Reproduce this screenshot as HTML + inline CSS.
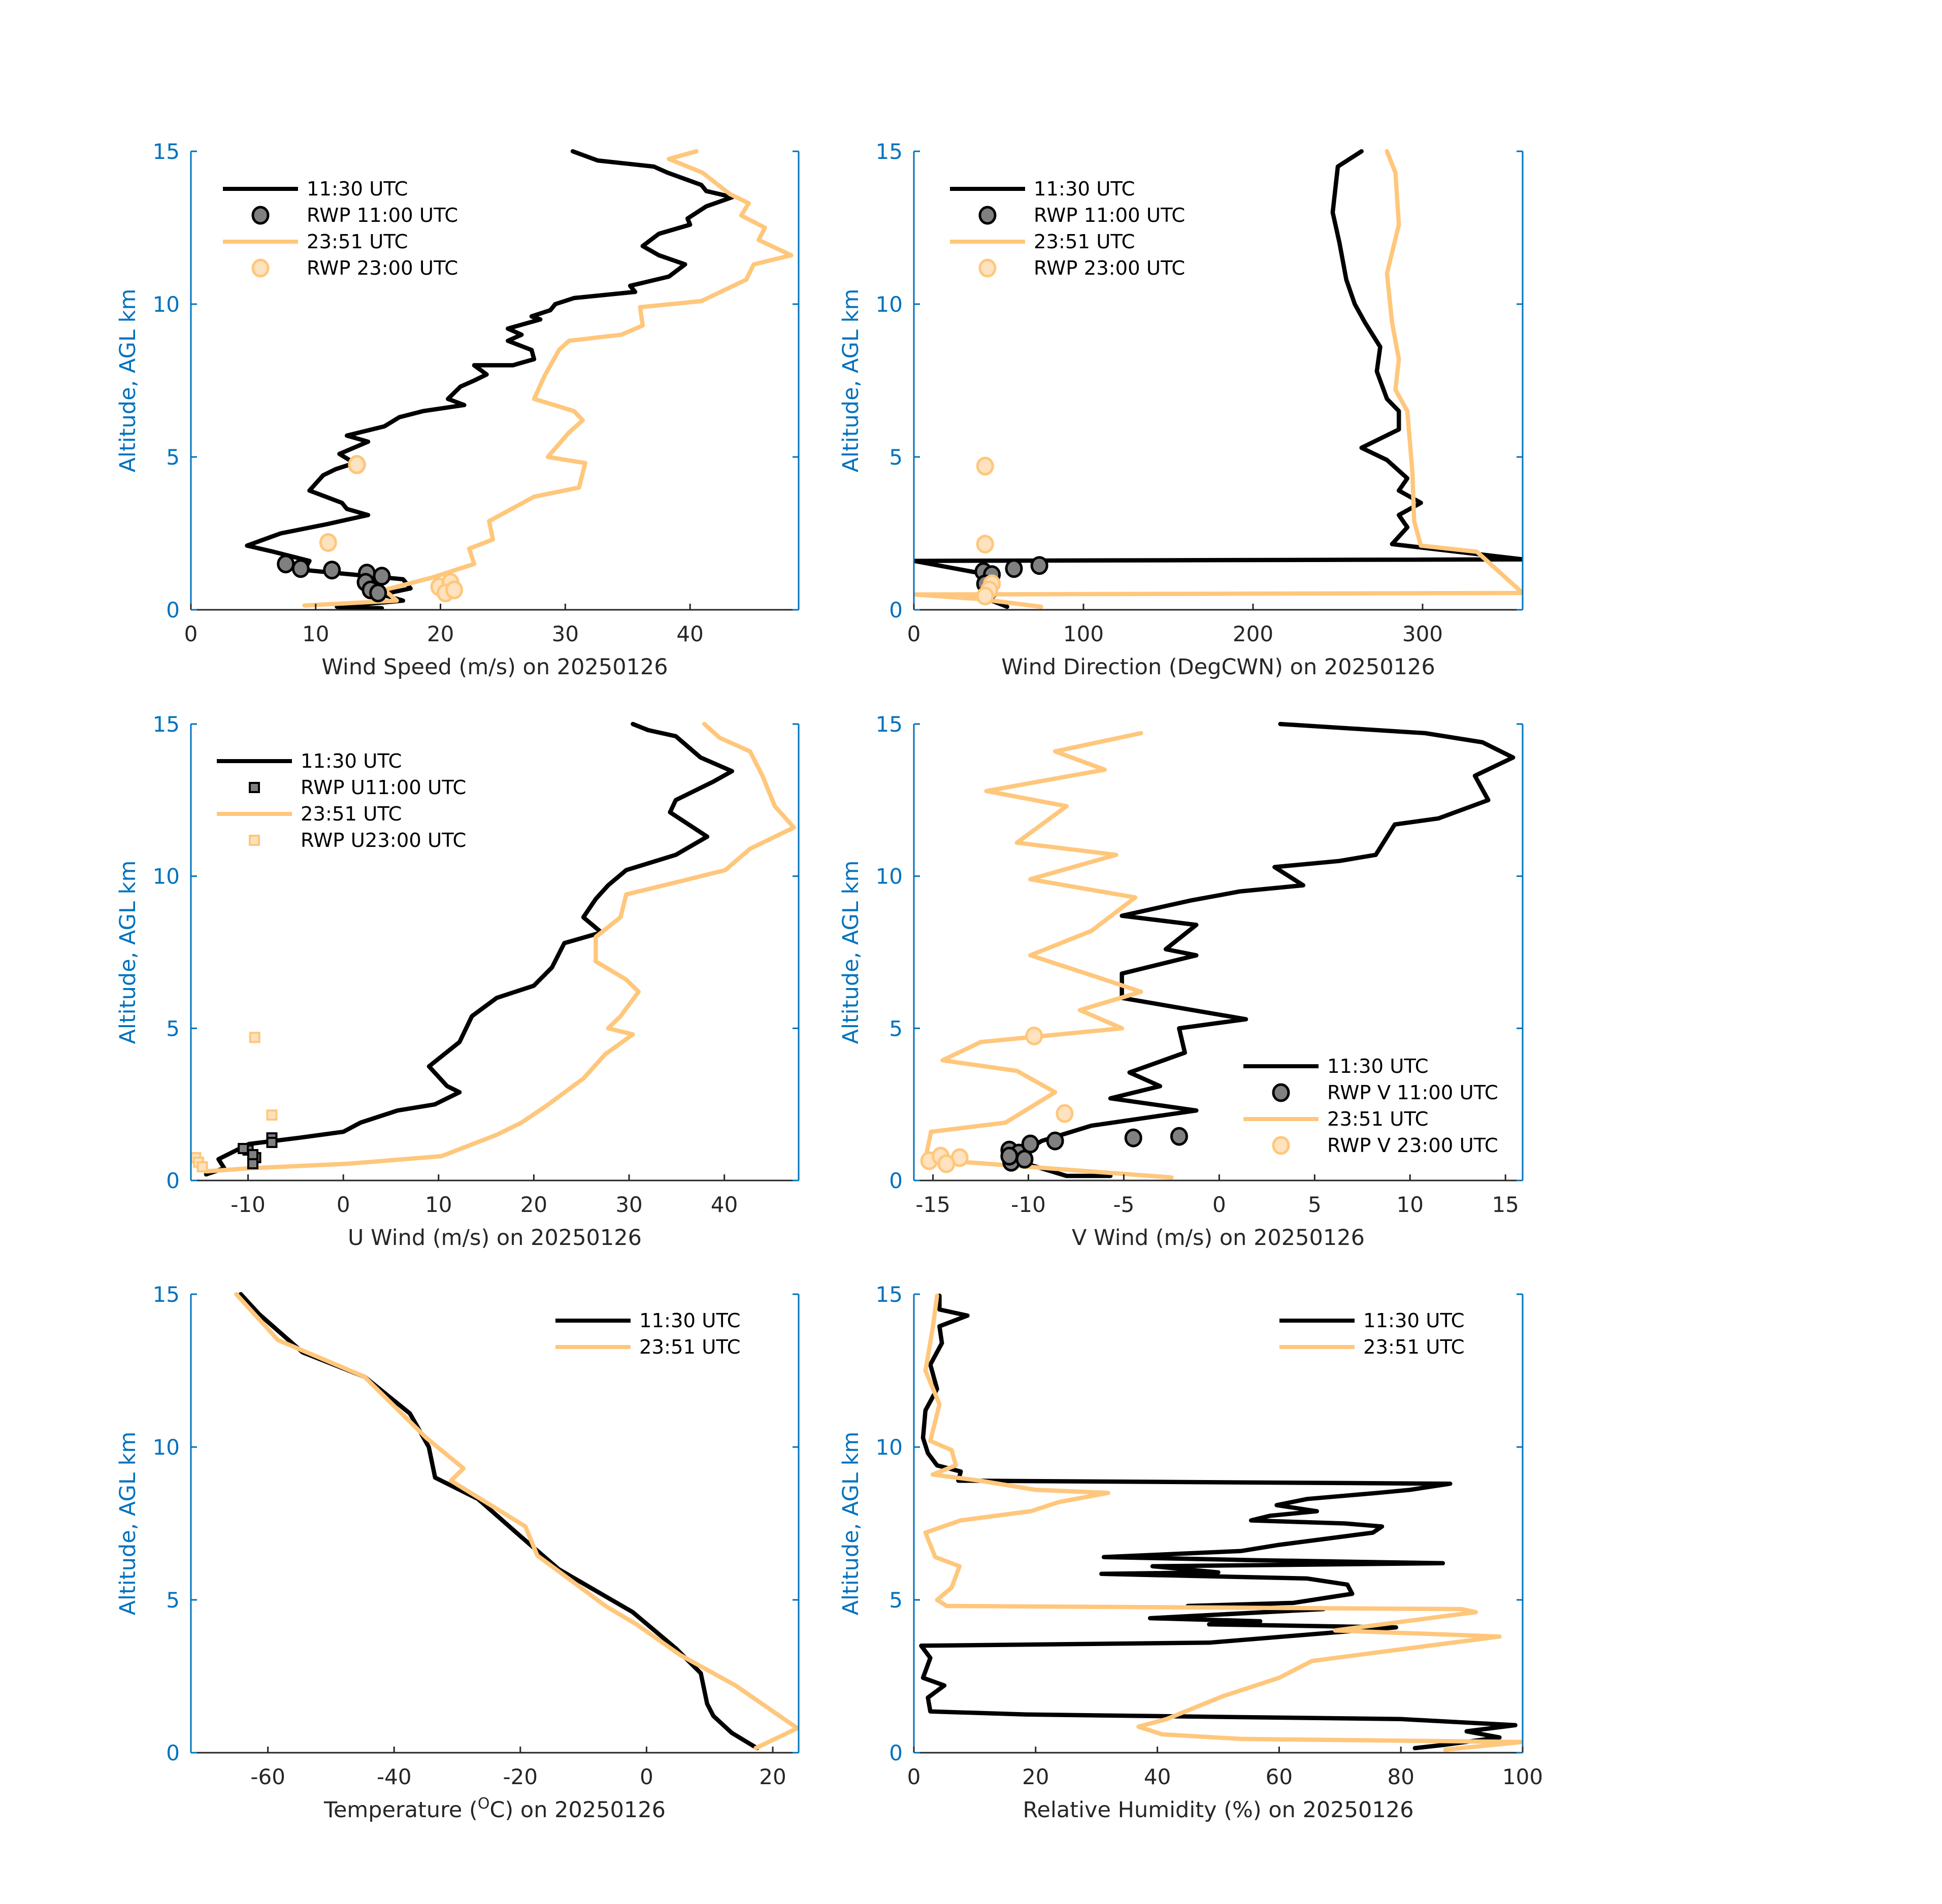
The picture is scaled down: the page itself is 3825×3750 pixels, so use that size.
<!DOCTYPE html>
<html><head><meta charset="utf-8"><style>
html,body{margin:0;padding:0;background:#fff;}
svg{display:block;}
text{font-family:"DejaVu Sans","Liberation Sans",sans-serif;}
</style></head><body>
<svg id="fig" xmlns="http://www.w3.org/2000/svg" width="3825" height="3750" viewBox="0 0 3825 3750">
<rect width="3825" height="3750" fill="#fff"/>
</svg>
<script>
// ---- Panel 1: wind speed ----
const ws1130_x=[30.6,32.6,37.1,38.2,40.9,41.3,43.4,41.3,39.8,40.0,37.5,36.2,37.5,39.6,38.3,35.2,35.6,30.7,29.2,28.8,27.3,28.0,25.4,26.5,25.4,27.3,27.5,25.8,22.7,23.7,22.7,21.6,20.6,21.9,18.6,16.7,15.5,12.5,14.2,11.9,13.1,11.6,10.6,9.5,12.1,12.5,14.2,10.9,7.2,4.5,6.6,9.5,9.1,17.0,17.6,15.3,17.0,11.7,15.3];
const ws1130_z=[15,14.7,14.5,14.3,13.9,13.7,13.5,13.2,12.8,12.6,12.3,11.9,11.6,11.3,10.9,10.6,10.4,10.2,10.0,9.8,9.6,9.5,9.2,9.0,8.8,8.5,8.2,8.0,8.0,7.7,7.5,7.3,6.9,6.7,6.5,6.3,6.0,5.7,5.5,5.1,4.8,4.6,4.4,3.9,3.5,3.3,3.1,2.8,2.5,2.1,1.9,1.6,1.3,1.0,0.7,0.5,0.3,0.1,0.05];
const ws2351_x=[40.5,38.3,41.0,43.2,44.7,44.1,46.0,45.5,48.1,45.1,44.5,40.9,36.0,36.2,34.5,30.3,29.5,28.4,27.5,30.7,31.4,30.3,28.6,31.6,31.1,27.5,23.9,24.2,22.3,22.7,19.3,15.5,16.5,9.1];
const ws2351_z=[15,14.75,14.3,13.6,13.3,12.9,12.5,12.1,11.6,11.3,10.8,10.1,9.9,9.3,9.0,8.8,8.5,7.7,6.9,6.5,6.2,5.8,5.0,4.8,4.0,3.7,2.9,2.3,2.0,1.5,1.05,0.65,0.3,0.14];
const wsRwp11_x=[7.6,8.8,11.3,14.1,15.3,14.0,14.4,15.0,13.3];
const wsRwp11_z=[1.5,1.35,1.3,1.2,1.1,0.9,0.65,0.55,4.75];
const wsRwp23_x=[13.3,11.0,19.9,20.8,20.4,21.1];
const wsRwp23_z=[4.75,2.2,0.75,0.9,0.55,0.65];
// ---- Panel 2: wind direction ----
const wd1130_x=[264,250,247,251,255,260,266,275,273,279,286,286,264,279,291,286,299,286,291,282,359,0,39,46,39,55];
const wd1130_z=[15,14.5,13,12,10.8,10,9.4,8.6,7.8,6.9,6.5,5.9,5.3,4.9,4.3,3.9,3.5,3.1,2.7,2.15,1.65,1.6,1.2,0.85,0.45,0.1];
const wd2351_x=[279,284,286,279,282,286,284,291,294,295,299,332,359,0,39,75];
const wd2351_z=[15,14.3,12.6,11,9.4,8.2,7.2,6.5,4.5,2.9,2.1,1.9,0.55,0.5,0.35,0.1];
const wdRwp11_x=[41,46,59,74,42,44];
const wdRwp11_z=[1.25,1.15,1.35,1.45,0.85,0.6];
const wdRwp23_x=[42,42,46,44.5,42];
const wdRwp23_z=[4.7,2.15,0.85,0.65,0.45];
// ---- Panel 3: U wind ----
const u1130_x=[30.4,32,34.9,37.5,40.8,38.8,34.9,34.3,38.2,34.9,29.7,27.8,26.5,25.2,27.1,23.2,21.9,20.0,16.1,13.5,12.2,9.0,10.9,12.2,9.6,5.7,1.8,0,-4.7,-9.9,-13.1,-12.5,-14.4];
const u1130_z=[15,14.8,14.6,13.9,13.45,13.1,12.5,12.1,11.3,10.7,10.2,9.7,9.25,8.65,8.15,7.8,7.0,6.4,6.0,5.4,4.55,3.75,3.1,2.9,2.5,2.3,1.9,1.6,1.4,1.2,0.7,0.4,0.2];
const u2351_x=[37.9,39.5,42.7,44.0,45.3,47.3,42.7,40.1,35.6,29.7,29.1,26.5,26.5,29.7,31.0,29.1,27.8,30.4,27.5,25.2,21.3,18.7,16.1,10.3,0.5,-9.9,-14.4,-15.4];
const u2351_z=[15,14.55,14.1,13.3,12.3,11.6,10.9,10.2,9.85,9.4,8.65,8.0,7.2,6.6,6.2,5.4,5.0,4.8,4.15,3.35,2.45,1.9,1.5,0.8,0.55,0.4,0.3,0.55];
const uRwp11_x=[-10,-9.2,-9.5,-10.5,-7.5,-7.5,-9.5];
const uRwp11_z=[1.0,0.75,0.55,1.05,1.4,1.25,0.85];
const uRwp23_x=[-9.3,-7.5,-15.5,-15.2,-14.8];
const uRwp23_z=[4.7,2.15,0.75,0.6,0.45];
// ---- Panel 4: V wind ----
const v1130_x=[3.2,10.8,13.8,15.4,13.4,14.1,11.5,9.2,8.2,6.3,2.9,4.4,1.1,-1.5,-5.1,-1.2,-2.8,-1.2,-5.1,-5.1,1.4,-2.1,-1.8,-4.7,-3.1,-5.7,-1.2,-6.7,-9.3,-10.9,-8.0,-5.7];
const v1130_z=[15,14.7,14.4,13.9,13.3,12.5,11.9,11.7,10.7,10.5,10.3,9.7,9.5,9.2,8.7,8.4,7.6,7.4,6.8,6.0,5.3,5.0,4.2,3.55,3.1,2.7,2.3,1.8,1.3,0.7,0.15,0.15];
const v2351_x=[-4.1,-8.6,-6.0,-12.2,-8.0,-10.6,-5.4,-9.9,-4.4,-6.7,-9.9,-6.0,-4.1,-7.3,-5.1,-12.5,-14.5,-10.6,-8.6,-11.2,-15.1,-15.4,-2.5];
const v2351_z=[14.7,14.1,13.5,12.8,12.3,11.1,10.7,9.9,9.3,8.2,7.4,6.6,6.2,5.6,5.0,4.55,3.95,3.6,2.9,1.9,1.6,0.7,0.1];
const vRwp11_x=[-11,-10.5,-10.9,-10.2,-9.9,-8.6,-4.5,-2.1,-11];
const vRwp11_z=[1.0,0.9,0.6,0.7,1.2,1.3,1.4,1.45,0.8];
const vRwp23_x=[-9.7,-8.1,-15.2,-14.6,-13.6,-14.3];
const vRwp23_z=[4.75,2.2,0.65,0.8,0.75,0.55];
// ---- Panel 5: temperature ----
const t1130_x=[-64.3,-61.4,-54.5,-44.7,-37.5,-34.5,-33.5,-26.7,-19.8,-13.9,-2.2,4.7,8.6,9.6,10.6,13.5,17.5];
const t1130_z=[15,14.35,13.1,12.3,11.1,10.0,9.0,8.3,7.05,6.0,4.6,3.4,2.6,1.6,1.2,0.65,0.15];
const t2351_x=[-65,-58.4,-44.7,-34.9,-29.0,-31.0,-19.2,-17.3,-6.5,-1.6,5.3,14.1,23.9,17.3];
const t2351_z=[15,13.5,12.3,10.3,9.3,8.9,7.4,6.45,4.8,4.2,3.2,2.2,0.8,0.15];
// ---- Panel 6: relative humidity ----
const rh1130_x=[4.2,4.2,8.8,4.2,4.6,2.7,3.8,1.9,1.5,2.3,3.8,7.7,7.3,88.1,81.5,76.2,64.6,59.6,66.2,58.5,55.4,70.8,76.9,75.4,60.0,53.8,31.2,55.4,86.9,39.2,50.0,30.8,64.6,71.2,72.0,62.3,45.0,67.3,38.8,56.9,48.5,79.2,48.5,1.2,2.7,1.5,5.0,2.3,2.7,18.5,80.0,98.8,90.8,96.2,86.9,82.3];
const rh1130_z=[14.95,14.5,14.3,13.95,13.4,12.7,11.9,11.2,10.3,9.8,9.4,9.2,8.9,8.8,8.6,8.5,8.3,8.1,7.9,7.75,7.6,7.5,7.4,7.2,6.8,6.6,6.4,6.3,6.2,6.1,5.9,5.85,5.7,5.5,5.2,4.9,4.8,4.7,4.4,4.3,4.2,4.1,3.6,3.5,3.1,2.45,2.2,1.8,1.35,1.25,1.1,0.9,0.7,0.5,0.25,0.15];
const rh2351_x=[3.8,3.1,1.9,4.2,2.7,6.2,6.9,3.1,10.8,20.0,31.9,23.8,19.2,7.7,1.9,3.5,7.5,6.2,3.8,5.4,90,92.3,69.2,96.2,76.9,65.4,60.0,50.8,41.5,36.9,40.8,53.8,100,87.3];
const rh2351_z=[14.95,13.9,12.5,11.4,10.2,9.9,9.4,9.1,8.9,8.6,8.5,8.2,7.9,7.6,7.2,6.4,6.1,5.4,5.0,4.8,4.7,4.6,4.0,3.8,3.3,3.0,2.45,1.85,1.1,0.85,0.6,0.45,0.35,0.1];

const yTicks=[0,5,10,15];
const NS="http://www.w3.org/2000/svg";
const svg=document.getElementById('fig');
const BLACK="#000", ORANGE="#FFC77C", OFILL="#FFE2BF", GFILL="#808080", BLUE="#0072BD";
function mk(tag,attrs,parent){const e=document.createElementNS(NS,tag);for(const k in attrs)e.setAttribute(k,attrs[k]);(parent||svg).appendChild(e);return e;}

function panel(cfg){
  const g=mk('g',{});
  
  
  const L=cfg.x0,R=cfg.x1,T=cfg.y0,B=cfg.y1;
  const sx=v=>L+(v-cfg.xmin)/(cfg.xmax-cfg.xmin)*(R-L);
  const sy=v=>B-(v/15)*(B-T);
  const clip='clip-'+cfg.name;
  const cp=mk('clipPath',{id:clip},g);mk('rect',{x:L,y:T-6,width:R-L,height:B-T+6},cp);
  const plot=mk('g',{'clip-path':'url(#'+clip+')'},g);
  cfg.lines.forEach(s=>{
    const d=s.x.map((v,i)=>(i?'L':'M')+sx(v).toFixed(1)+','+sy(s.z[i]).toFixed(1)).join('');
    const p=mk('path',{d:d,fill:'none',stroke:s.color,'stroke-width':8.5,'stroke-linejoin':'round','stroke-linecap':'round'},plot);
    
    
  });
  (cfg.marks||[]).forEach(s=>{
    s.x.forEach((v,i)=>{
      let m;
      if(s.shape==='sq') m=mk('rect',{x:sx(v)-9,y:sy(s.z[i])-9,width:18,height:18,fill:s.fill,stroke:s.stroke,'stroke-width':4},plot);
      else m=mk('ellipse',{cx:sx(v),cy:sy(s.z[i]),rx:15,ry:16,fill:s.fill,stroke:s.stroke,'stroke-width':5},plot);
      
      
    });
  });
  const xa=mk('line',{x1:L,y1:B,x2:R,y2:B,stroke:'#262626','stroke-width':3},g);
  
  
  const ya=mk('line',{x1:L,y1:T,x2:L,y2:B,stroke:BLUE,'stroke-width':3},g);
  
  
  const yr=mk('line',{x1:R,y1:T,x2:R,y2:B,stroke:BLUE,'stroke-width':3},g);
  
  
  cfg.xticks.forEach(t=>{
    const X=sx(t);
    mk('line',{x1:X,y1:B,x2:X,y2:B-12,stroke:'#262626','stroke-width':3},g);
    const tx=mk('text',{x:X,y:B+62,'text-anchor':'middle','font-size':42,fill:'#262626'},g);
    tx.textContent=String(t);
    
    
  });
  yTicks.forEach(t=>{
    const Y=sy(t);
    mk('line',{x1:L,y1:Y,x2:L+12,y2:Y,stroke:BLUE,'stroke-width':3},g);
    mk('line',{x1:R,y1:Y,x2:R-12,y2:Y,stroke:BLUE,'stroke-width':3},g);
    const ty=mk('text',{x:L-22,y:Y+15,'text-anchor':'end','font-size':42,fill:BLUE},g);
    ty.textContent=t;
    
    
  });
  const yl=mk('text',{x:0,y:0,'text-anchor':'middle','font-size':43,fill:BLUE,transform:`translate(${L-110},${(T+B)/2}) rotate(-90)`},g);
  yl.textContent='Altitude, AGL km';
  
  
  const xl=mk('text',{x:(L+R)/2,y:B+127,'text-anchor':'middle','font-size':43,fill:'#262626'},g);
  if(cfg.xlabelHTML){xl.innerHTML=cfg.xlabelHTML;} else xl.textContent=cfg.xlabel;
  
  
  const lg=mk('g',{},g);
  
  
  cfg.legend.items.forEach((it,i)=>{
    const y=cfg.legend.y+i*52, lx=cfg.legend.x;
    if(it.type==='line') mk('line',{x1:lx,y1:y,x2:lx+148,y2:y,stroke:it.color,'stroke-width':8},lg);
    else if(it.type==='sq') mk('rect',{x:lx+65,y:y-9,width:18,height:18,fill:it.fill,stroke:it.stroke,'stroke-width':4},lg);
    else mk('ellipse',{cx:lx+74,cy:y,rx:15,ry:16,fill:it.fill,stroke:it.stroke,'stroke-width':5},lg);
    const t=mk('text',{x:lx+165,y:y+13,'font-size':38.5,fill:'#000'},lg);
    t.textContent=it.label;
    
    
  });
}
const C1=[376,1573],C2=[1800,2999],R1=[298,1201],R2=[1426,2325],R3=[2549,3452];
const rwpLeg=(a,b)=>[{type:'line',color:BLACK,label:'11:30 UTC'},{type:a,fill:GFILL,stroke:BLACK,label:b[0]},{type:'line',color:ORANGE,label:'23:51 UTC'},{type:a,fill:OFILL,stroke:ORANGE,label:b[1]}];
panel({name:'wind-speed-panel',x0:C1[0],x1:C1[1],y0:R1[0],y1:R1[1],xmin:0,xmax:48.7,xticks:[0,10,20,30,40],xlabel:'Wind Speed (m/s) on 20250126',
  lines:[{x:ws1130_x,z:ws1130_z,color:BLACK,name:'speed-1130-line'},{x:ws2351_x,z:ws2351_z,color:ORANGE,name:'speed-2351-line'}],
  marks:[{x:wsRwp11_x,z:wsRwp11_z,fill:GFILL,stroke:BLACK,name:'rwp-1100'},{x:wsRwp23_x,z:wsRwp23_z,fill:OFILL,stroke:ORANGE,name:'rwp-2300'}],
  legend:{x:439,y:372,items:rwpLeg('c',['RWP 11:00 UTC','RWP 23:00 UTC'])}});
panel({name:'wind-direction-panel',x0:C2[0],x1:C2[1],y0:R1[0],y1:R1[1],xmin:0,xmax:359,xticks:[0,100,200,300],xlabel:'Wind Direction (DegCWN) on 20250126',
  lines:[{x:wd1130_x,z:wd1130_z,color:BLACK,name:'dir-1130-line'},{x:wd2351_x,z:wd2351_z,color:ORANGE,name:'dir-2351-line'}],
  marks:[{x:wdRwp11_x,z:wdRwp11_z,fill:GFILL,stroke:BLACK,name:'rwp-1100'},{x:wdRwp23_x,z:wdRwp23_z,fill:OFILL,stroke:ORANGE,name:'rwp-2300'}],
  legend:{x:1871,y:372,items:rwpLeg('c',['RWP 11:00 UTC','RWP 23:00 UTC'])}});
panel({name:'u-wind-panel',x0:C1[0],x1:C1[1],y0:R2[0],y1:R2[1],xmin:-16,xmax:47.8,xticks:[-10,0,10,20,30,40],xlabel:'U Wind (m/s) on 20250126',
  lines:[{x:u1130_x,z:u1130_z,color:BLACK,name:'u-1130-line'},{x:u2351_x,z:u2351_z,color:ORANGE,name:'u-2351-line'}],
  marks:[{x:uRwp11_x,z:uRwp11_z,fill:GFILL,stroke:BLACK,shape:'sq',name:'rwp-u-1100'},{x:uRwp23_x,z:uRwp23_z,fill:OFILL,stroke:ORANGE,shape:'sq',name:'rwp-u-2300'}],
  legend:{x:427,y:1499,items:rwpLeg('sq',['RWP U11:00 UTC','RWP U23:00 UTC'])}});
panel({name:'v-wind-panel',x0:C2[0],x1:C2[1],y0:R2[0],y1:R2[1],xmin:-16,xmax:15.9,xticks:[-15,-10,-5,0,5,10,15],xlabel:'V Wind (m/s) on 20250126',
  lines:[{x:v1130_x,z:v1130_z,color:BLACK,name:'v-1130-line'},{x:v2351_x,z:v2351_z,color:ORANGE,name:'v-2351-line'}],
  marks:[{x:vRwp11_x,z:vRwp11_z,fill:GFILL,stroke:BLACK,name:'rwp-v-1100'},{x:vRwp23_x,z:vRwp23_z,fill:OFILL,stroke:ORANGE,name:'rwp-v-2300'}],
  legend:{x:2449,y:2100,items:rwpLeg('c',['RWP V 11:00 UTC','RWP V 23:00 UTC'])}});
panel({name:'temperature-panel',x0:C1[0],x1:C1[1],y0:R3[0],y1:R3[1],xmin:-72.2,xmax:24.1,xticks:[-60,-40,-20,0,20],
  xlabelHTML:'Temperature (<tspan baseline-shift="super" font-size="30">O</tspan>C) on 20250126',
  lines:[{x:t1130_x,z:t1130_z,color:BLACK,name:'temp-1130-line'},{x:t2351_x,z:t2351_z,color:ORANGE,name:'temp-2351-line'}],
  legend:{x:1094,y:2601,items:[{type:'line',color:BLACK,label:'11:30 UTC'},{type:'line',color:ORANGE,label:'23:51 UTC'}]}});
panel({name:'humidity-panel',x0:C2[0],x1:C2[1],y0:R3[0],y1:R3[1],xmin:0,xmax:100,xticks:[0,20,40,60,80,100],xlabel:'Relative Humidity (%) on 20250126',
  lines:[{x:rh1130_x,z:rh1130_z,color:BLACK,name:'rh-1130-line'},{x:rh2351_x,z:rh2351_z,color:ORANGE,name:'rh-2351-line'}],
  legend:{x:2520,y:2601,items:[{type:'line',color:BLACK,label:'11:30 UTC'},{type:'line',color:ORANGE,label:'23:51 UTC'}]}});
</script>
</body></html>
